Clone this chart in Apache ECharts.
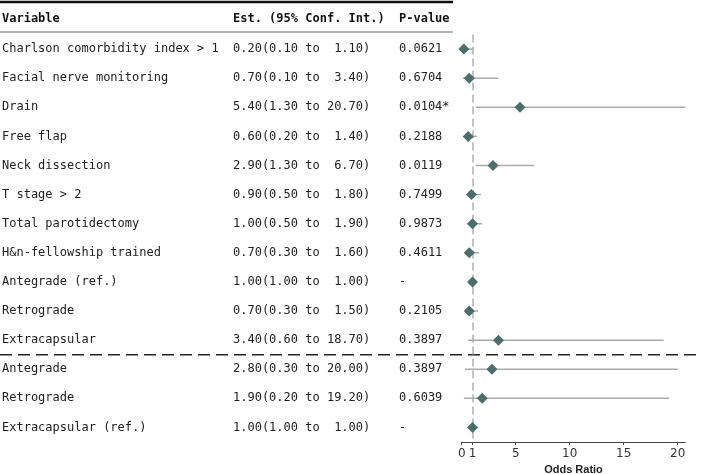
<!DOCTYPE html>
<html>
<head>
<meta charset="utf-8">
<script src="https://cdn.jsdelivr.net/npm/echarts@6/dist/echarts.min.js"></script>
<style>
  html, body { margin: 0; padding: 0; background: #fff; }
  #J_forest { width: 702px; height: 474px; }
  #J_err { position: absolute; left: 0; top: 0; font: 10px monospace; color: red; white-space: pre; }
</style>
</head>
<body>
<div id="J_forest"></div>
<div id="J_err"></div>
<script>
// table columns
var variables = ['Charlson comorbidity index > 1', 'Facial nerve monitoring', 'Drain', 'Free flap',
  'Neck dissection', 'T stage > 2', 'Total parotidectomy', 'H&n-fellowship trained',
  'Antegrade (ref.)', 'Retrograde', 'Extracapsular', 'Antegrade', 'Retrograde', 'Extracapsular (ref.)']
var estText = ['0.20(0.10 to  1.10)', '0.70(0.10 to  3.40)', '5.40(1.30 to 20.70)', '0.60(0.20 to  1.40)',
  '2.90(1.30 to  6.70)', '0.90(0.50 to  1.80)', '1.00(0.50 to  1.90)', '0.70(0.30 to  1.60)',
  '1.00(1.00 to  1.00)', '0.70(0.30 to  1.50)', '3.40(0.60 to 18.70)', '2.80(0.30 to 20.00)',
  '1.90(0.20 to 19.20)', '1.00(1.00 to  1.00)']
var pValues = ['0.0621', '0.6704', '0.0104*', '0.2188', '0.0119', '0.7499', '0.9873', '0.4611',
  '-', '0.2105', '0.3897', '0.3897', '0.6039', '-']
var headers = ['Variable', 'Est. (95% Conf. Int.)', 'P-value']

// odds ratios
var est = [0.20, 0.70, 5.40, 0.60, 2.90, 0.90, 1.00, 0.70, 1.00, 0.70, 3.40, 2.80, 1.90, 1.00]
var lower = [0.10, 0.10, 1.30, 0.20, 1.30, 0.50, 0.50, 0.30, 1.00, 0.30, 0.60, 0.30, 0.20, 1.00]
var upper = [1.10, 3.40, 20.70, 1.40, 6.70, 1.80, 1.90, 1.60, 1.00, 1.50, 18.70, 20.00, 19.20, 1.00]
var xTicks = [0, 1, 5, 10, 15, 20]
var splitAfter = 10

var gridLeft = 461.7
var colX = [2, 233, 399]
var mono = 'DejaVu Sans Mono'

var rows = variables.map(function (v, i) { return String(i) })

function showErr (e) {
  document.getElementById('J_err').textContent += (e && e.stack ? e.stack : String(e)).slice(0, 600) + '\n'
}

function textAxis (list, x) {
  return {
    type: 'category', data: rows, inverse: true, position: 'left',
    axisLine: { show: false }, axisTick: { show: false }, splitLine: { show: false },
    axisLabel: {
      margin: gridLeft - x, align: 'left', fontFamily: mono, fontSize: 12, color: '#222',
      formatter: function (val, idx) { return list[idx] }
    }
  }
}

var chart = echarts.init(document.getElementById('J_forest'))
var option = {
  animation: false,
  grid: { left: gridLeft, right: 16.7, top: 34.5, bottom: 32, outerBoundsMode: 'none' },
  xAxis: {
    type: 'value', min: 0, max: 20.7,
    name: 'Odds Ratio', nameLocation: 'middle', nameGap: 22,
    nameTextStyle: { fontFamily: 'Liberation Sans', fontWeight: 'bold', fontSize: 11, color: '#222' },
    splitLine: { show: false },
    axisLine: { show: true, lineStyle: { color: '#444', width: 1.2 } },
    axisTick: { show: true, customValues: xTicks, length: 3, lineStyle: { color: '#444' } },
    axisLabel: { customValues: xTicks, margin: 6, fontFamily: 'DejaVu Sans', fontSize: 12, color: '#333' }
  },
  yAxis: [
    {
      type: 'category', data: rows, inverse: true,
      axisLine: { show: false }, axisTick: { show: false }, axisLabel: { show: false }, splitLine: { show: false }
    },
    textAxis(variables, colX[0]),
    textAxis(estText, colX[1]),
    textAxis(pValues, colX[2])
  ],
  series: [
    {
      type: 'custom',
      z: 2,
      xAxisIndex: 0,
      yAxisIndex: 0,
      encode: { x: 0, y: 2 },
      data: lower.map(function (lo, i) { return [lo, upper[i], i] }),
      renderItem: function (params, api) {
        var a = api.coord([api.value(0), api.value(2)])
        var b = api.coord([api.value(1), api.value(2)])
        return {
          type: 'line',
          shape: { x1: a[0], y1: a[1], x2: b[0], y2: b[1] },
          style: { stroke: '#aaaaaa', lineWidth: 1.5 }
        }
      }
    },
    {
      type: 'scatter',
      z: 3,
      xAxisIndex: 0,
      yAxisIndex: 0,
      symbol: 'diamond',
      symbolSize: [11, 11],
      itemStyle: { color: '#4d6d6d', opacity: 1 },
      data: est.map(function (v, i) { return [v, i] }),
      markLine: {
        silent: true, symbol: 'none', label: { show: false }, z: 1,
        lineStyle: { color: '#b0b0b0', type: [8, 4], width: 1.5 },
        data: [{ xAxis: 1 }]
      }
    }
  ]
}
try { chart.setOption(option) } catch (e) { showErr(e) }

try {
  var y0 = chart.convertToPixel({ yAxisIndex: 0 }, 0)
  var y1 = chart.convertToPixel({ yAxisIndex: 0 }, 1)
  var band = y1 - y0
  var headY = y0 - band
  var sepY = (chart.convertToPixel({ yAxisIndex: 0 }, splitAfter) + chart.convertToPixel({ yAxisIndex: 0 }, splitAfter + 1)) / 2

  var graphics = headers.map(function (h, i) {
    return {
      type: 'text', left: colX[i], top: headY - 7,
      style: { text: h, fontFamily: mono, fontWeight: 'bold', fontSize: 12, fill: '#111' }
    }
  })
  graphics.push({
    type: 'line', shape: { x1: 0, y1: 2, x2: 453, y2: 2 },
    style: { stroke: '#111', lineWidth: 2.5 }
  })
  graphics.push({
    type: 'line', shape: { x1: 0, y1: 32, x2: 453, y2: 32 },
    style: { stroke: '#999', lineWidth: 1.5 }
  })
  graphics.push({
    type: 'line', shape: { x1: 0, y1: sepY, x2: 702, y2: sepY },
    style: { stroke: '#222', lineWidth: 1.5, lineDash: [12, 6] }
  })
  chart.setOption({ graphic: graphics })
} catch (e) { showErr(e) }
</script>
</body>
</html>
